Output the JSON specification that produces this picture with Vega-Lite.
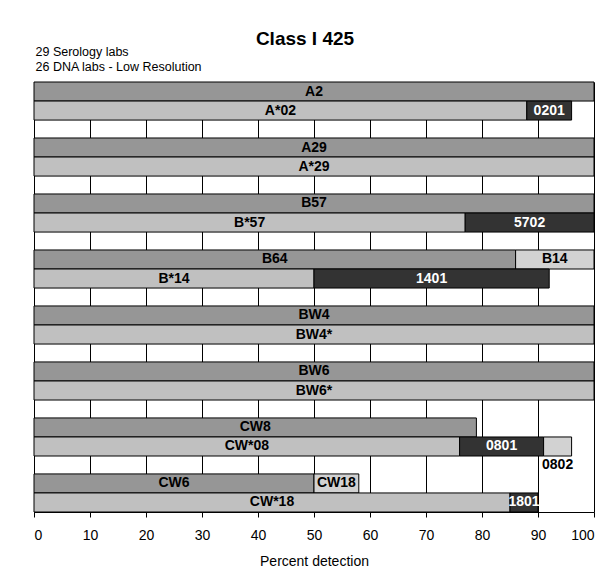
{
  "$schema": "https://vega.github.io/schema/vega-lite/v6.json",
  "autosize": {"type": "none"},
  "width": 560,
  "height": 430,
  "padding": {"left": 34, "top": 82, "right": 15, "bottom": 73},
  "background": "white",
  "config": {
    "view": {"stroke": null},
    "font": "Liberation Sans"
  },
  "title": {
    "text": "Class I 425",
    "fontSize": 19,
    "fontWeight": "bold",
    "font": "Liberation Sans",
    "color": "black",
    "anchor": "middle",
    "frame": "group",
    "dx": -9,
    "dy": 4,
    "offset": 0
  },
  "data": {
    "values": [
      {"grp": "A2", "kind": "Serology", "seg": "A2", "start": 0, "end": 100, "cat": "ser"},
      {"grp": "A2", "kind": "DNA", "seg": "A*02", "start": 0, "end": 88, "cat": "dna"},
      {"grp": "A2", "kind": "DNA", "seg": "0201", "start": 88, "end": 96, "cat": "allele"},
      {"grp": "A29", "kind": "Serology", "seg": "A29", "start": 0, "end": 100, "cat": "ser"},
      {"grp": "A29", "kind": "DNA", "seg": "A*29", "start": 0, "end": 100, "cat": "dna"},
      {"grp": "B57", "kind": "Serology", "seg": "B57", "start": 0, "end": 100, "cat": "ser"},
      {"grp": "B57", "kind": "DNA", "seg": "B*57", "start": 0, "end": 77, "cat": "dna"},
      {"grp": "B57", "kind": "DNA", "seg": "5702", "start": 77, "end": 100, "cat": "allele"},
      {"grp": "B64", "kind": "Serology", "seg": "B64", "start": 0, "end": 86, "cat": "ser"},
      {"grp": "B64", "kind": "Serology", "seg": "B14", "start": 86, "end": 100, "cat": "alt"},
      {"grp": "B64", "kind": "DNA", "seg": "B*14", "start": 0, "end": 50, "cat": "dna"},
      {"grp": "B64", "kind": "DNA", "seg": "1401", "start": 50, "end": 92, "cat": "allele"},
      {"grp": "BW4", "kind": "Serology", "seg": "BW4", "start": 0, "end": 100, "cat": "ser"},
      {"grp": "BW4", "kind": "DNA", "seg": "BW4*", "start": 0, "end": 100, "cat": "dna"},
      {"grp": "BW6", "kind": "Serology", "seg": "BW6", "start": 0, "end": 100, "cat": "ser"},
      {"grp": "BW6", "kind": "DNA", "seg": "BW6*", "start": 0, "end": 100, "cat": "dna"},
      {"grp": "CW8", "kind": "Serology", "seg": "CW8", "start": 0, "end": 79, "cat": "ser"},
      {"grp": "CW8", "kind": "DNA", "seg": "CW*08", "start": 0, "end": 76, "cat": "dna"},
      {"grp": "CW8", "kind": "DNA", "seg": "0801", "start": 76, "end": 91, "cat": "allele"},
      {"grp": "CW8", "kind": "DNA", "seg": "0802", "start": 91, "end": 96, "cat": "alt"},
      {"grp": "CW6", "kind": "Serology", "seg": "CW6", "start": 0, "end": 50, "cat": "ser"},
      {"grp": "CW6", "kind": "Serology", "seg": "CW18", "start": 50, "end": 58, "cat": "alt"},
      {"grp": "CW6", "kind": "DNA", "seg": "CW*18", "start": 0, "end": 85, "cat": "dna"},
      {"grp": "CW6", "kind": "DNA", "seg": "1801", "start": 85, "end": 90, "cat": "allele"}
    ]
  },
  "transform": [
    {"calculate": "(datum.start + datum.end) / 2", "as": "mid"}
  ],
  "encoding": {
    "y": {
      "field": "grp",
      "type": "nominal",
      "sort": ["A2", "A29", "B57", "B64", "BW4", "BW6", "CW8", "CW6"],
      "scale": {"paddingInner": 0.32, "paddingOuter": 0},
      "axis": {
        "labels": false,
        "ticks": false,
        "domain": false,
        "grid": false,
        "title": ["29 Serology labs", "26 DNA labs - Low Resolution"],
        "titleAngle": 0,
        "titleAlign": "left",
        "titleBaseline": "alphabetic",
        "titleX": 1,
        "titleY": -27,
        "titleFontSize": 12.5,
        "titleFontWeight": "normal",
        "titleColor": "black",
        "titleLineHeight": 15,
        "titleFont": "Liberation Sans"
      }
    },
    "yOffset": {
      "field": "kind",
      "type": "nominal",
      "sort": ["Serology", "DNA"],
      "scale": {"paddingInner": 0, "paddingOuter": 0}
    }
  },
  "layer": [
    {
      "mark": {"type": "bar", "stroke": "black", "strokeWidth": 1},
      "encoding": {
        "x": {
          "field": "start",
          "type": "quantitative",
          "scale": {"domain": [0, 100], "nice": false},
          "axis": {
            "values": [0, 10, 20, 30, 40, 50, 60, 70, 80, 90, 100],
            "grid": true,
            "gridColor": "black",
            "gridOpacity": 1,
            "gridWidth": 1,
            "domainColor": "black",
            "domainWidth": 1,
            "tickColor": "black",
            "tickSize": 5,
            "labelFontSize": 14,
            "labelColor": "black",
            "labelPadding": 11,
            "labelFont": "Liberation Sans",
            "title": "Percent detection",
            "titleFontSize": 14,
            "titleFontWeight": "normal",
            "titleColor": "black",
            "titleFont": "Liberation Sans",
            "titlePadding": 12
          }
        },
        "x2": {"field": "end"},
        "fill": {
          "field": "cat",
          "type": "nominal",
          "scale": {"domain": ["ser", "dna", "allele", "alt"], "range": ["#969696", "#c0c0c0", "#333333", "#d2d2d2"]},
          "legend": null
        }
      }
    },
    {
      "transform": [{"filter": "datum.seg !== '0802'"}],
      "mark": {"type": "text", "font": "Liberation Sans", "fontWeight": "bold", "fontSize": 14, "baseline": "middle", "align": "center"},
      "encoding": {
        "x": {"field": "mid", "type": "quantitative"},
        "text": {"field": "seg"},
        "color": {
          "condition": {"test": "datum.cat === 'allele'", "value": "white"},
          "value": "black"
        }
      }
    },
    {
      "transform": [{"filter": "datum.seg === '0802'"}],
      "mark": {"type": "text", "font": "Liberation Sans", "fontWeight": "bold", "fontSize": 14, "baseline": "middle", "align": "center", "dy": 19},
      "encoding": {
        "x": {"field": "mid", "type": "quantitative"},
        "text": {"field": "seg"},
        "color": {"value": "black"}
      }
    }
  ]
}
